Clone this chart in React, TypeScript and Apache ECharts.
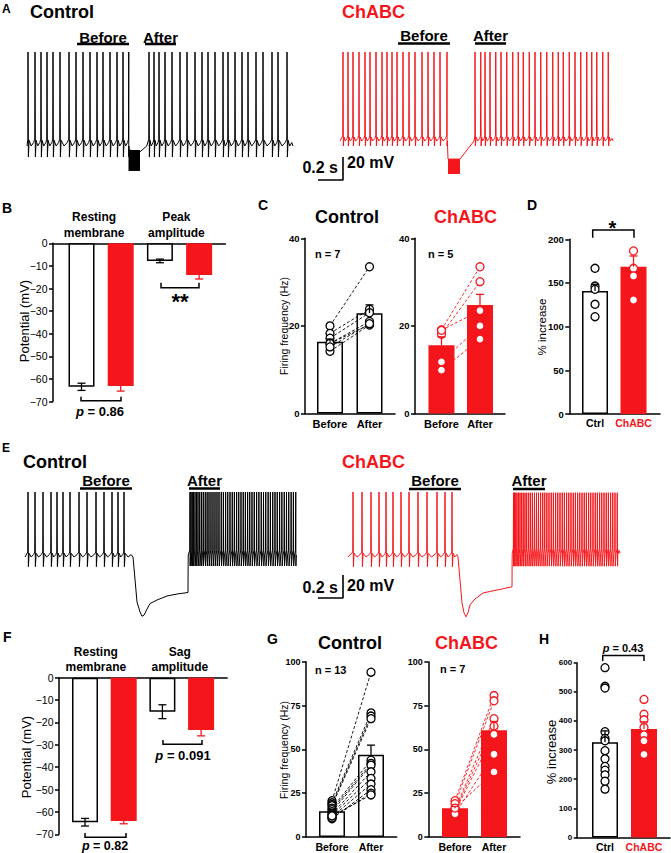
import React, { useEffect, useRef } from "react";
import * as echarts from "echarts";

const RED = "#f4161b";
const FONT = "'Liberation Sans', Arial, Helvetica, sans-serif";

// ================= Traces (time in ms, voltage in mV) =================
const A_ctrl_before = [8, 64, 112, 160, 208, 264, 336, 392, 448, 504, 560, 608, 664, 720, 768, 814];
const A_ctrl_after = [976, 1016, 1056, 1104, 1160, 1224, 1280, 1344, 1400, 1448, 1504, 1568, 1608, 1664, 1720, 1768, 1832, 1888, 1960, 2008, 2080];
const A_ctrl_block = [812, 904, -63.5, -81.7];
const A_ctrl_gap = [[816, -63.5], [904, -65], [958, -60]];
const A_ctrl_end = 2128;

const A_chabc_before = [24, 64, 104, 152, 200, 240, 288, 336, 376, 416, 456, 504, 552, 600, 656, 704, 752, 800, 856];
const A_chabc_after = [1080, 1126, 1160, 1200, 1246, 1288, 1334, 1382, 1426, 1466, 1514, 1560, 1606, 1654, 1702, 1746, 1786, 1834, 1880, 1926, 1974, 2014, 2054, 2102, 2146];
const A_chabc_block = [864, 960, -75.7, -88.7];
const A_chabc_gap = [[864, -75.7], [960, -75.7], [1072, -60]];
const A_chabc_end = 2184;

const E_ctrl_before = [24, 80, 144, 208, 256, 304, 360, 432, 496, 568, 632, 696, 744, 792];
const E_ctrl_sag = [[864, -60], [896, -99.1], [920, -107.8], [936, -111.5], [952, -110.6], [976, -105.3], [1000, -100.5], [1056, -97.4], [1136, -93.9], [1216, -92.2], [1296, -91.0], [1304, -90.8], [1305, -66]];
const E_ctrl_after = [1320, 1328, 1338, 1348, 1360, 1372, 1384, 1398, 1412, 1426, 1442, 1457, 1472, 1488, 1504, 1520, 1536, 1552, 1570, 1587, 1605, 1622, 1640, 1658, 1675, 1693, 1710, 1728, 1746, 1763, 1781, 1798, 1816, 1834, 1853, 1871, 1890, 1908, 1926, 1945, 1963, 1982, 2000, 2018, 2037, 2055, 2074, 2092, 2110, 2129, 2147, 2166];
const E_ctrl_end = 2176;

const E_chabc_before = [40, 112, 184, 248, 304, 360, 424, 488, 560, 632, 712, 776, 832];
const E_chabc_sag = [[880, -60], [912, -100], [928, -108.5], [944, -112], [960, -108.5], [976, -101.7], [1016, -96.5], [1080, -91.3], [1192, -88.7], [1304, -86.1], [1312, -86], [1313, -64]];
const E_chabc_after = [1324, 1332, 1342, 1352, 1364, 1376, 1389, 1402, 1416, 1430, 1446, 1461, 1476, 1492, 1508, 1524, 1541, 1558, 1574, 1591, 1608, 1626, 1643, 1661, 1678, 1696, 1714, 1731, 1749, 1766, 1784, 1802, 1819, 1837, 1854, 1872, 1890, 1907, 1925, 1942, 1960, 1978, 1995, 2013, 2030, 2048, 2066, 2083, 2101, 2118, 2136, 2154];
const E_chabc_end = 2176;

const lvA_ctrl = { base: -60, thr: -54, peak: 21.7, trough: -69.6 };
const lvA_chabc = { base: -60, thr: -55.5, peak: 17.4, trough: -64.3 };
const lvE_pre = { base: -60, thr: -55.7, peak: -3.5, trough: -68.4 };
const lvE_ctrl_post = { base: -58.3, thr: -54, peak: -3.5, trough: -67.8 };
const lvE_chabc_post = { base: -56.8, thr: -52.5, peak: -4.1, trough: -68 };

const scaleA = [[2328, -89.6], [2528, -89.6], [2528, -69.6]]; // 0.2 s, 20 mV
const scaleE = [[2344, -95.7], [2544, -95.7], [2544, -75.7]];

// ================= Bar panels =================
const B_labels = ["Resting\nmembrane", "Peak\namplitude"];
const B_means = [-63.5, -63.1, -7.8, -14.0];
const B_sem = [1.6, 2.3, 0.8, 1.8];

const F_labels = ["Resting\nmembrane", "Sag\namplitude"];
const F_means = [-64.6, -64.0, -15.2, -23.4];
const F_sem = [1.7, 1.3, 3.1, 2.6];

const BA_labels = ["Before", "After"];
const CC_labels = ["Ctrl", "{r|ChABC}"];

const C_ctrl_means = [16.4, 22.9];
const C_ctrl_sem = [0.6, 1.9];
const C_ctrl_before = [20.0, 18.3, 17.2, 16.0, 16.0, 14.2, 15.2];
const C_ctrl_after = [33.5, 23.8, 23.0, 20.3, 21.0, 20.2, 20.5];
const C_chabc_means = [15.6, 24.8];
const C_chabc_sem = [1.9, 2.4];
const C_chabc_before = [19.1, 18.1, 19.0, 11.8, 9.9];
const C_chabc_after = [33.5, 30.1, 23.5, 20.0, 17.0];

const D_means = [140.8, 168.6];
const D_sem = [7.7, 12.3];
const D_ctrl = [166.8, 146.5, 142.8, 125.6, 111.4];
const D_chabc = [201, 186.6, 166.8, 158, 130.5];

const G_ctrl_means = [14.7, 46.9];
const G_ctrl_sem = [1.1, 5.5];
const G_ctrl_before = [20.7, 19.5, 18.5, 17.9, 16.5, 15.6, 14.5, 13.2, 12.5, 11.5, 10.4, 10.9, 12.0];
const G_ctrl_after = [94, 70.8, 69, 67.5, 43.8, 42, 41, 37.2, 33.4, 30.2, 27, 25, 24];
const G_chabc_means = [16.4, 60.9];
const G_chabc_sem = [1.0, 5.0];
const G_chabc_before = [20.7, 19, 16, 15.1, 14.5, 13.2, 16.5];
const G_chabc_after = [80.7, 77.7, 67.5, 63.2, 58.5, 47.2, 37.1];

const H_means = [327, 372];
const H_sem = [39, 25];
const H_ctrl = [583, 519, 513, 363, 340, 332, 298, 270, 244, 231, 215, 193, 166];
const H_chabc = [474, 423, 404, 378, 352, 332, 285];

type Lv = { base: number; thr: number; peak: number; trough: number };

function spikeTrain(times: number[], t0: number, t1: number, lv: Lv): number[][] {
  const pts: number[][] = [[t0, lv.base]];
  times.forEach((t, i) => {
    const prev = i > 0 ? times[i - 1] : t0;
    const next = i < times.length - 1 ? times[i + 1] : t1;
    const before = Math.max(t - prev, 1);
    const after = Math.max(next - t, 1);
    pts.push([t - Math.min(2, before * 0.15), lv.thr]);
    pts.push([t, lv.peak]);
    pts.push([t + Math.min(3, after * 0.12), lv.trough]);
    if (after > 20) {
      pts.push([t + Math.min(9, after * 0.2), lv.thr - 1]);
      pts.push([t + after * 0.45, lv.base]);
      pts.push([t + after * 0.8, lv.base + (lv.thr - lv.base) * 0.5]);
    } else {
      pts.push([t + after * 0.5, lv.base]);
    }
  });
  pts.push([t1, lv.base]);
  return pts;
}

function buildOption() {
  const opt: any = {
    animation: false,
    textStyle: { fontFamily: FONT },
    grid: [],
    xAxis: [],
    yAxis: [],
    series: [],
    graphic: [],
  };

  // ---------- trace grids ----------
  const addTrace = (gi: number, g: any, data: number[][], color: string, block: number[] | null, scale: number[][] | null) => {
    opt.grid.push({ left: g.left, top: g.top, width: g.width, height: g.height });
    opt.xAxis.push({ gridIndex: gi, type: "value", min: 0, max: g.xMax, show: false });
    opt.yAxis.push({ gridIndex: gi, type: "value", min: g.yMin, max: g.yMax, show: false });
    opt.series.push({
      type: "line", xAxisIndex: gi, yAxisIndex: gi, data, symbol: "none", showSymbol: false,
      lineStyle: { color, width: 1 }, silent: true, z: 2, clip: false,
    });
    if (block) {
      opt.series.push({
        type: "custom", xAxisIndex: gi, yAxisIndex: gi, data: [block], encode: { x: [0, 1], y: [2, 3] }, silent: true, z: 3,
        renderItem: (_p: any, api: any) => {
          const a = api.coord([api.value(0), api.value(2)]);
          const b = api.coord([api.value(1), api.value(3)]);
          return { type: "rect", shape: { x: a[0], y: a[1], width: b[0] - a[0], height: b[1] - a[1] }, style: { fill: color } };
        },
      });
    }
    if (scale) {
      opt.series.push({
        type: "line", xAxisIndex: gi, yAxisIndex: gi, data: scale, symbol: "none",
        lineStyle: { color: "#000", width: 1.6 }, silent: true, z: 4, clip: false,
      });
    }
  };

  const trA_ctrl = [...spikeTrain(A_ctrl_before, 0, 816, lvA_ctrl), ...A_ctrl_gap, ...spikeTrain(A_ctrl_after, 958, A_ctrl_end, lvA_ctrl)];
  const trA_chabc = [...spikeTrain(A_chabc_before, 0, 862, lvA_chabc), ...A_chabc_gap, ...spikeTrain(A_chabc_after, 1072, A_chabc_end, lvA_chabc)];
  const trE_ctrl = [...spikeTrain(E_ctrl_before, 0, 864, lvE_pre), ...E_ctrl_sag, ...spikeTrain(E_ctrl_after, 1306, E_ctrl_end, lvE_ctrl_post)];
  const trE_chabc = [...spikeTrain(E_chabc_before, 0, 880, lvE_pre), ...E_chabc_sag, ...spikeTrain(E_chabc_after, 1314, E_chabc_end, lvE_chabc_post)];

  addTrace(0, { left: 27, top: 42.5, width: 330, height: 161, xMax: 2640, yMin: -110, yMax: 30 }, trA_ctrl, "#000", A_ctrl_block, scaleA);
  addTrace(1, { left: 340, top: 37.5, width: 280, height: 161, xMax: 2240, yMin: -110, yMax: 30 }, trA_chabc, RED, A_chabc_block, null);
  addTrace(2, { left: 25, top: 476.5, width: 330, height: 161, xMax: 2640, yMin: -130, yMax: 10 }, trE_ctrl, "#000", null, scaleE);
  addTrace(3, { left: 348, top: 476.5, width: 280, height: 161, xMax: 2240, yMin: -130, yMax: 10 }, trE_chabc, RED, null, null);

  // ---------- bar panels ----------
  const addBar = (gi: number, c: any) => {
    opt.grid.push({ left: c.left, top: c.top, width: c.width, height: c.height });
    opt.xAxis.push({
      gridIndex: gi, type: "value", min: c.xMin, max: c.xMax, position: c.xPos,
      axisLine: { show: true, onZero: false, lineStyle: { color: "#000", width: 1.5 } },
      axisTick: { show: false }, splitLine: { show: false },
      axisLabel: {
        show: true, customValues: c.labelVals,
        formatter: (v: number) => {
          let k = 0;
          c.labelVals.forEach((lv: number, j: number) => { if (Math.abs(lv - v) < Math.abs(c.labelVals[k] - v)) k = j; });
          return c.labels[k];
        },
        margin: c.labelMargin, fontSize: c.labelSize, fontWeight: "bold", color: "#000", fontFamily: FONT,
        lineHeight: c.labelLH || c.labelSize + 2,
        rich: { r: { color: RED, fontSize: c.labelSize, fontWeight: "bold", fontFamily: FONT } },
      },
    });
    opt.yAxis.push({
      gridIndex: gi, type: "value", min: c.yMin, max: c.yMax, interval: c.yInt,
      axisLine: { show: true, onZero: false, lineStyle: { color: "#000", width: 1.5 } },
      axisTick: { show: true, length: c.tickLen, lineStyle: { color: "#000", width: 1.5 } },
      splitLine: { show: false },
      axisLabel: {
        margin: c.tickLen + 1.5, fontSize: c.tickSize, fontWeight: c.tickWeight, color: "#000", fontFamily: FONT,
        formatter: (v: number) => (v < 0 ? "\u2212" + Math.abs(v) : String(v)),
      },
    });
    // bars
    opt.series.push({
      type: "bar", xAxisIndex: gi, yAxisIndex: gi, barWidth: 26, silent: true, z: 2,
      data: c.means.map((m: number, i: number) => ({
        value: [i, m],
        itemStyle: c.reds[i]
          ? { color: RED, borderColor: RED, borderWidth: 1.5 }
          : { color: "#fff", borderColor: "#000", borderWidth: 1.5 },
      })),
    });
    // error bars
    const errData = c.means.map((m: number, i: number) => {
      const s = c.sems[i];
      const dir = m < 0 ? -1 : 1;
      const two = c.two[i] ? 1 : 0;
      return [i, two ? m - dir * s : m, m + dir * s, c.reds[i] ? 1 : 0, two];
    });
    opt.series.push({
      type: "custom", xAxisIndex: gi, yAxisIndex: gi, data: errData, encode: { x: 0, y: [1, 2] }, silent: true, z: 6,
      renderItem: (_p: any, api: any) => {
        const x = api.value(0);
        const a = api.coord([x, api.value(1)]);
        const b = api.coord([x, api.value(2)]);
        const col = api.value(3) ? RED : "#000";
        const hw = 4;
        const st = { stroke: col, lineWidth: 1.3 };
        const ch: any[] = [
          { type: "line", shape: { x1: a[0], y1: a[1], x2: b[0], y2: b[1] }, style: st },
          { type: "line", shape: { x1: b[0] - hw, y1: b[1], x2: b[0] + hw, y2: b[1] }, style: st },
        ];
        if (api.value(4)) ch.push({ type: "line", shape: { x1: a[0] - hw, y1: a[1], x2: a[0] + hw, y2: a[1] }, style: st });
        return { type: "group", children: ch };
      },
    });
    // paired lines
    (c.pairs || []).forEach((p: any) => {
      const col = p.red ? RED : "#000";
      opt.series.push({
        type: "custom", xAxisIndex: gi, yAxisIndex: gi, silent: true, z: 3,
        data: p.before.map((b: number, i: number) => [0, b, 1, p.after[i]]),
        encode: { x: [0, 2], y: [1, 3] },
        renderItem: (_p: any, api: any) => {
          const a = api.coord([api.value(0), api.value(1)]);
          const b = api.coord([api.value(2), api.value(3)]);
          return { type: "line", shape: { x1: a[0], y1: a[1], x2: b[0], y2: b[1] }, style: { stroke: col, lineWidth: 0.9, lineDash: [3, 2] } };
        },
      });
    });
    // points
    (c.pts || []).forEach((p: any) => {
      opt.series.push({
        type: "scatter", xAxisIndex: gi, yAxisIndex: gi, silent: true, z: 5, symbol: "circle", symbolSize: 8,
        data: p.vals.map((v: number) => [p.x, v]),
        itemStyle: { color: "#fff", borderColor: p.red ? RED : "#000", borderWidth: 1.3, opacity: 1 },
      });
    });
  };

  // B (gi 4)
  addBar(4, {
    left: 53, top: 243.3, width: 172.4, height: 158.2, xMin: -0.727, xMax: 3.67, yMin: -70, yMax: 0, yInt: 10, xPos: "top",
    labelVals: [0.32, 2.42], labels: B_labels, labelSize: 12, labelMargin: 3, labelLH: 15.5,
    tickSize: 10.5, tickWeight: "normal", tickLen: 4,
    means: B_means, sems: B_sem, reds: [false, true, false, true], two: [true, false, true, false],
  });
  // C control (gi 5)
  addBar(5, {
    left: 305, top: 238.3, width: 90, height: 175.2, xMin: -0.633, xMax: 1.646, yMin: 0, yMax: 40, yInt: 20, xPos: "bottom",
    labelVals: [0, 1], labels: BA_labels, labelSize: 11, labelMargin: 3.5,
    tickSize: 9.5, tickWeight: "bold", tickLen: 4,
    means: C_ctrl_means, sems: C_ctrl_sem, reds: [false, false], two: [false, false],
    pairs: [{ before: C_ctrl_before, after: C_ctrl_after, red: false }],
    pts: [{ x: 0, vals: C_ctrl_before, red: false }, { x: 1, vals: C_ctrl_after, red: false }],
  });
  // C ChABC (gi 6)
  addBar(6, {
    left: 415, top: 238.3, width: 90, height: 175.2, xMin: -0.688, xMax: 1.65, yMin: 0, yMax: 40, yInt: 20, xPos: "bottom",
    labelVals: [0, 1], labels: BA_labels, labelSize: 11, labelMargin: 3.5,
    tickSize: 9.5, tickWeight: "bold", tickLen: 4,
    means: C_chabc_means, sems: C_chabc_sem, reds: [true, true], two: [false, false],
    pairs: [{ before: C_chabc_before, after: C_chabc_after, red: true }],
    pts: [{ x: 0, vals: C_chabc_before, red: true }, { x: 1, vals: C_chabc_after, red: true }],
  });
  // D (gi 7)
  addBar(7, {
    left: 569.3, top: 239.3, width: 90.7, height: 174.7, xMin: -0.668, xMax: 1.688, yMin: 0, yMax: 200, yInt: 50, xPos: "bottom",
    labelVals: [0, 1], labels: CC_labels, labelSize: 10.5, labelMargin: 3,
    tickSize: 9.5, tickWeight: "bold", tickLen: 4,
    means: D_means, sems: D_sem, reds: [false, true], two: [false, false],
    pts: [{ x: 0, vals: D_ctrl, red: false }, { x: 1, vals: D_chabc, red: true }],
  });
  // F (gi 8)
  addBar(8, {
    left: 59, top: 677.7, width: 168.1, height: 156.6, xMin: -0.672, xMax: 3.672, yMin: -70, yMax: 0, yInt: 10, xPos: "top",
    labelVals: [0.28, 2.45], labels: F_labels, labelSize: 12, labelMargin: 3.5, labelLH: 15,
    tickSize: 10.5, tickWeight: "normal", tickLen: 4,
    means: F_means, sems: F_sem, reds: [false, true, false, true], two: [true, false, true, false],
  });
  // G control (gi 9)
  addBar(9, {
    left: 306, top: 661.7, width: 90.7, height: 176.6, xMin: -0.667, xMax: 1.659, yMin: 0, yMax: 100, yInt: 25, xPos: "bottom",
    labelVals: [0, 1], labels: BA_labels, labelSize: 10.5, labelMargin: 3.5,
    tickSize: 9, tickWeight: "bold", tickLen: 4,
    means: G_ctrl_means, sems: G_ctrl_sem, reds: [false, false], two: [false, false],
    pairs: [{ before: G_ctrl_before, after: G_ctrl_after, red: false }],
    pts: [{ x: 0, vals: G_ctrl_before, red: false }, { x: 1, vals: G_ctrl_after, red: false }],
  });
  // G ChABC (gi 10)
  addBar(10, {
    left: 428.3, top: 661.7, width: 91.7, height: 176.6, xMin: -0.685, xMax: 1.667, yMin: 0, yMax: 100, yInt: 25, xPos: "bottom",
    labelVals: [0, 1], labels: BA_labels, labelSize: 10.5, labelMargin: 3.5,
    tickSize: 9, tickWeight: "bold", tickLen: 4,
    means: G_chabc_means, sems: G_chabc_sem, reds: [true, true], two: [false, false],
    pairs: [{ before: G_chabc_before, after: G_chabc_after, red: true }],
    pts: [{ x: 0, vals: G_chabc_before, red: true }, { x: 1, vals: G_chabc_after, red: true }],
  });
  // H (gi 11)
  addBar(11, {
    left: 576.7, top: 662.7, width: 93.3, height: 177.3, xMin: -0.726, xMax: 1.667, yMin: 0, yMax: 600, yInt: 100, xPos: "bottom",
    labelVals: [0, 1], labels: CC_labels, labelSize: 10.5, labelMargin: 3,
    tickSize: 8, tickWeight: "bold", tickLen: 3,
    means: H_means, sems: H_sem, reds: [false, true], two: [false, false],
    pts: [{ x: 0, vals: H_ctrl, red: false }, { x: 1, vals: H_chabc, red: true }],
  });

  // ---------- annotations ----------
  const T = (x: number, y: number, text: string, size: number, o: any = {}) => ({
    type: "text", x, y, rotation: o.rot || 0, silent: true, z: 10,
    style: {
      text, fill: o.color || "#000", fontSize: size, fontWeight: o.weight || "normal", fontFamily: FONT,
      align: o.align || "left", verticalAlign: "middle",
    },
  });
  const B = { weight: "bold" };
  const BC = { weight: "bold", align: "center" };
  const R = (x: number, y: number, text: string, size: number) => T(x, y, text, size, { rot: Math.PI / 2, align: "center" });
  const L = (x1: number, y1: number, x2: number, y2: number, w = 2.5) => ({
    type: "line", silent: true, z: 10, shape: { x1, y1, x2, y2 }, style: { stroke: "#000", lineWidth: w },
  });
  const P = (pts: number[][]) => ({
    type: "polyline", silent: true, z: 10, shape: { points: pts }, style: { stroke: "#000", lineWidth: 1.5, fill: null },
  });
  const PV = (x: number, y: number, val: string, size: number) => ({
    type: "text", x, y, silent: true, z: 10,
    style: {
      text: "{i|p}{n| = " + val + "}", align: "center", verticalAlign: "middle", fontSize: size, fontFamily: FONT, fontWeight: "bold", fill: "#000",
      rich: {
        i: { fontStyle: "italic", fontWeight: "bold", fontSize: size, fontFamily: FONT, fill: "#000" },
        n: { fontWeight: "bold", fontSize: size, fontFamily: FONT, fill: "#000" },
      },
    },
  });

  opt.graphic = [
    // panel letters
    T(2, 8.5, "A", 12, B), T(2, 448, "E", 12, B),
    T(2, 208.3, "B", 14, B), T(258, 204.5, "C", 14, B), T(527, 204.5, "D", 14, B),
    T(3, 637, "F", 14, B), T(267, 639, "G", 14, B), T(539, 639, "H", 14, B),
    // titles
    T(30, 11.5, "Control", 18, B), T(342, 11.5, "ChABC", 18, { weight: "bold", color: RED }),
    T(23, 461.5, "Control", 18, B), T(342, 462, "ChABC", 18, { weight: "bold", color: RED }),
    T(315, 216.5, "Control", 18, B), T(434, 216.5, "ChABC", 18, { weight: "bold", color: RED }),
    T(318, 643, "Control", 18, B), T(435, 643, "ChABC", 18, { weight: "bold", color: RED }),
    // trace period labels
    T(103, 37, "Before", 15, BC), L(77, 44, 129, 44), T(160.5, 37, "After", 15, BC), L(145, 44, 176, 44),
    T(424, 35.5, "Before", 15, BC), L(398, 43.5, 450, 43.5), T(490.5, 35.5, "After", 15, BC), L(475, 43.5, 506, 43.5),
    T(106, 480, "Before", 15, BC), L(80, 488.5, 132, 488.5), T(204.5, 480, "After", 15, BC), L(189, 488.5, 220, 488.5),
    T(435, 480.5, "Before", 15, BC), L(409, 489, 461, 489), T(529, 480.5, "After", 15, BC), L(513, 489, 545, 489),
    // scale bar labels
    T(338, 167.5, "0.2 s", 16, { weight: "bold", align: "right" }), T(347, 162.5, "20 mV", 16, B),
    T(338, 587, "0.2 s", 16, { weight: "bold", align: "right" }), T(347, 585, "20 mV", 16, B),
    // axis names
    R(24, 321, "Potential (mV)", 13), R(26, 757, "Potential (mV)", 13),
    R(284, 326, "Firing frequency (Hz)", 10.5), R(283.5, 750, "Firing frequency (Hz)", 10.5),
    R(541.7, 327, "% increase", 11.5), R(551.7, 752, "% increase", 13),
    // n labels
    T(315, 254, "n = 7", 11, B), T(428, 254, "n = 5", 11, B),
    T(315, 670, "n = 13", 11, B), T(440, 669, "n = 7", 11, B),
    // brackets & statistics
    P([[161, 282.7], [161, 287.7], [199, 287.7], [199, 282.7]]), T(180, 301, "**", 22, BC),
    P([[81, 396.7], [81, 400.7], [121, 400.7], [121, 396.7]]), PV(100, 411.7, "0.86", 13),
    P([[592.7, 237.7], [592.7, 230], [634, 230], [634, 237.7]]), T(612.5, 228, "*", 20, BC),
    P([[163, 740], [163, 744.3], [202, 744.3], [202, 740]]), PV(183, 755, "0.091", 13),
    P([[85, 833], [85, 837.3], [126, 837.3], [126, 833]]), PV(105, 845.5, "0.82", 12.5),
    P([[602.7, 661], [602.7, 655.5], [644, 655.5], [644, 661]]), PV(623, 647.5, "0.43", 11),
  ];

  return opt;
}

export default function App() {
  const ref = useRef<HTMLDivElement>(null);
  useEffect(() => {
    document.body.style.margin = "0";
    const chart = echarts.init(ref.current as HTMLDivElement, null, { renderer: "svg", width: 671, height: 853 });
    chart.setOption(buildOption());
    return () => chart.dispose();
  }, []);
  return <div ref={ref} style={{ width: 671, height: 853, background: "#fff" }} />;
}
